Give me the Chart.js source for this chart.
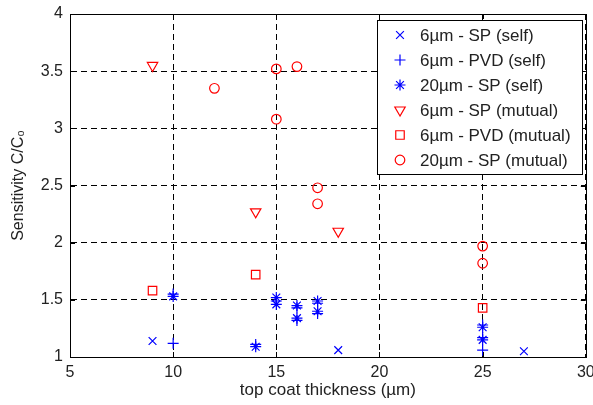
<!DOCTYPE html>
<html>
<head>
<meta charset="utf-8">
<script src="https://cdn.jsdelivr.net/npm/chart.js@4.4.1/dist/chart.umd.min.js"></script>
<style>
  html, body { margin: 0; padding: 0; background: #fff; }
  #wrap { width: 593px; height: 405px; }
</style>
</head>
<body>
<div id="wrap"><canvas id="sensChart"></canvas></div>
<script>
// series labels
const seriesNames = ["6\u00b5m - SP (self)", "6\u00b5m - PVD (self)", "20\u00b5m - SP (self)",
                     "6\u00b5m - SP (mutual)", "6\u00b5m - PVD (mutual)", "20\u00b5m - SP (mutual)"];

// top coat thickness (um) / sensitivity C/C0
const sp6SelfX = [9, 18, 27];
const sp6SelfY = [1.14, 1.06, 1.05];
const pvd6SelfX = [10, 10, 14, 15, 16, 16, 17, 17, 25, 25, 25];
const pvd6SelfY = [1.55, 1.12, 1.11, 1.49, 1.43, 1.32, 1.47, 1.38, 1.28, 1.17, 1.06];
const sp20SelfX = [10, 14, 15, 15, 16, 16, 17, 17, 25, 25];
const sp20SelfY = [1.53, 1.09, 1.52, 1.46, 1.45, 1.34, 1.49, 1.40, 1.26, 1.15];
const sp6MutX = [9, 14, 18];
const sp6MutY = [3.55, 2.27, 2.10];
const pvd6MutX = [9, 14, 25];
const pvd6MutY = [1.58, 1.72, 1.43];
const sp20MutX = [12, 15, 16, 15, 17, 17, 25, 25];
const sp20MutY = [3.35, 3.52, 3.54, 3.08, 2.48, 2.34, 1.97, 1.82];

const xTicks = [5, 10, 15, 20, 25, 30];
const yTicks = [1, 1.5, 2, 2.5, 3, 3.5, 4];

const BLUE = "#0000ff", RED = "#ff0000";
const FONT = "'Liberation Sans', Arial, Helvetica, sans-serif";

function pts(xs, ys) {
  return xs.map((x, i) => ({ x: x, y: ys[i] }));
}

const markers = [
  { style: "crossRot", radius: 5.5, rotation: 0, color: BLUE },
  { style: "cross", radius: 5.5, rotation: 0, color: BLUE },
  { style: "star", radius: 5.5, rotation: 0, color: BLUE },
  { style: "triangle", radius: 6, rotation: 180, color: RED },
  { style: "rect", radius: 6, rotation: 0, color: RED },
  { style: "circle", radius: 4.8, rotation: 0, color: RED },
];

const allPts = [
  pts(sp6SelfX, sp6SelfY), pts(pvd6SelfX, pvd6SelfY), pts(sp20SelfX, sp20SelfY),
  pts(sp6MutX, sp6MutY), pts(pvd6MutX, pvd6MutY), pts(sp20MutX, sp20MutY),
];

const datasets = seriesNames.map((name, i) => ({
  label: name,
  data: allPts[i],
  showLine: false,
  pointStyle: markers[i].style,
  pointRadius: markers[i].radius,
  pointRotation: markers[i].rotation,
  pointBorderColor: markers[i].color,
  pointBackgroundColor: "rgba(0,0,0,0)",
  pointBorderWidth: 1.2,
}));

// solid box + inward ticks like the matlab axes
const frame = {
  id: "frame",
  afterDatasetsDraw(chart) {
    const { ctx, chartArea: a, scales } = chart;
    ctx.save();
    ctx.strokeStyle = "#000";
    ctx.lineWidth = 1;
    ctx.strokeRect(Math.round(a.left) + 0.5, Math.round(a.top) + 0.5,
                   Math.round(a.right - a.left), Math.round(a.bottom - a.top));
    ctx.beginPath();
    xTicks.forEach(v => {
      const px = Math.round(scales.x.getPixelForValue(v)) + 0.5;
      ctx.moveTo(px, a.bottom); ctx.lineTo(px, a.bottom - 5);
      ctx.moveTo(px, a.top); ctx.lineTo(px, a.top + 5);
    });
    yTicks.forEach(v => {
      const py = Math.round(scales.y.getPixelForValue(v)) + 0.5;
      ctx.moveTo(a.left, py); ctx.lineTo(a.left + 5, py);
      ctx.moveTo(a.right, py); ctx.lineTo(a.right - 5, py);
    });
    ctx.stroke();
    ctx.restore();
  }
};

// legend drawn inside the plot, top right, white box
const boxLegend = {
  id: "boxLegend",
  afterDraw(chart) {
    const { ctx, chartArea: a } = chart;
    ctx.save();
    ctx.font = "17px " + FONT;
    const textW = Math.max(...seriesNames.map(s => ctx.measureText(s).width));
    const rowH = 25;
    const w = Math.round(43 + textW + 11);
    const h = rowH * seriesNames.length + 4;
    const x0 = Math.round(a.right - 4 - w), y0 = Math.round(a.top + 6);
    ctx.fillStyle = "#fff";
    ctx.fillRect(x0, y0, w, h);
    ctx.strokeStyle = "#000";
    ctx.lineWidth = 1;
    ctx.strokeRect(x0 + 0.5, y0 + 0.5, w, h);
    seriesNames.forEach((name, i) => {
      const cy = y0 + 15 + i * rowH;
      const m = markers[i];
      ctx.strokeStyle = m.color;
      ctx.fillStyle = "rgba(0,0,0,0)";
      ctx.lineWidth = 1.2;
      Chart.helpers.drawPoint(ctx, { pointStyle: m.style, radius: m.radius, rotation: m.rotation, borderWidth: 1.2 }, x0 + 23, cy);
      ctx.fillStyle = "#222";
      ctx.textBaseline = "middle";
      ctx.textAlign = "left";
      ctx.fillText(name, x0 + 43, cy + 1);
    });
    ctx.restore();
  }
};

const gridOpts = { color: "#000", lineWidth: 1, drawTicks: false };

const config = {
  type: "scatter",
  data: { datasets: datasets },
  options: {
    responsive: false,
    animation: false,
    devicePixelRatio: 1,
    layout: { padding: { left: 0, right: 6, top: 14, bottom: 0 } },
    plugins: { legend: { display: false }, tooltip: { enabled: false } },
    scales: {
      x: {
        type: "linear", min: 5, max: 30,
        afterBuildTicks: s => { s.ticks = xTicks.map(v => ({ value: v })); },
        afterFit: s => { s.height = 48; s.paddingLeft = 0; s.paddingRight = 0; },
        grid: gridOpts,
        border: { display: true, color: "#000", dash: [6, 4] },
        ticks: { color: "#222", padding: 6, font: { family: FONT, size: 16 } },
        title: { display: true, text: "top coat thickness (\u00b5m)", color: "#222",
                 padding: { top: 0, bottom: 4 }, font: { family: FONT, size: 17 } },
      },
      y: {
        type: "linear", min: 1, max: 4,
        afterBuildTicks: s => { s.ticks = yTicks.map(v => ({ value: v })); },
        afterFit: s => { s.width = 70; s.paddingTop = 0; s.paddingBottom = 0; },
        grid: gridOpts,
        border: { display: true, color: "#000", dash: [6, 4] },
        ticks: { color: "#222", padding: 7, font: { family: FONT, size: 16 },
                 callback: v => String(v) },
        title: { display: true, text: "Sensitivity C/C\u2080", color: "#222",
                 padding: { top: 9, bottom: 0 }, font: { family: FONT, size: 16 } },
      },
    },
  },
  plugins: [frame, boxLegend],
};

const canvas = document.getElementById("sensChart");
canvas.width = 593;
canvas.height = 405;
const sensChart = new Chart(canvas, config);
</script>
</body>
</html>
